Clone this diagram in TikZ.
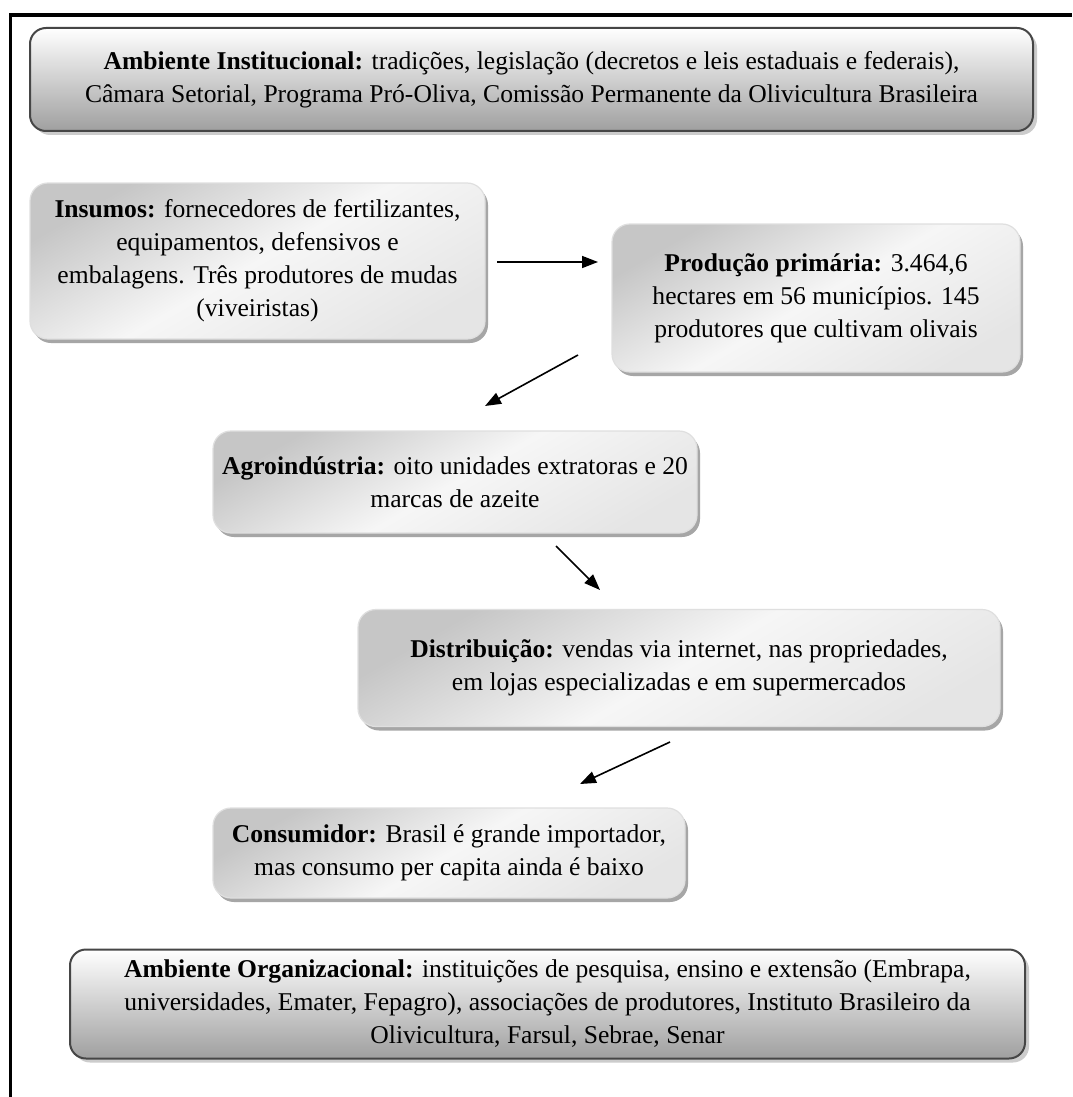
\documentclass[tikz,border=0pt]{standalone}
\usepackage{fontspec}
\setmainfont{Liberation Serif}
\usetikzlibrary{arrows.meta,shadows}

\begin{document}
\begin{tikzpicture}[x=0.5pt,y=-0.5pt,
  font=\fontsize{12.8}{16.5}\selectfont,
  envbox/.style={draw=gray!55!black, line width=1pt, rounded corners=8pt,
    top color=white, bottom color=gray!75, align=center, inner sep=0pt,
    drop shadow={shadow xshift=2pt, shadow yshift=-2pt, fill=gray!40, opacity=1}},
  chainbox/.style={draw=gray!25, line width=0.6pt, rounded corners=9pt,
    top color=gray!45, bottom color=gray!20, middle color=gray!7, shading angle=30,
    align=center, inner sep=0pt,
    drop shadow={shadow xshift=1.5pt, shadow yshift=-2pt, fill=gray!70, opacity=1}},
  arr/.style={-{Triangle[length=8pt,width=6pt]}, line width=0.8pt}]
\useasboundingbox (0,0) rectangle (1072,1097);
\fill[white] (0,0) rectangle (1072,1097);

% frame
\draw[line width=1.6pt] (10.5,1097) -- (10.5,15) -- (1072,15);

% environment boxes
\node[envbox, minimum width=501.5pt, minimum height=51.5pt] (inst) at (531.5,79.5)
  {\textbf{Ambiente Institucional:} tradições, legislação (decretos e leis estaduais e federais),\\
   Câmara Setorial, Programa Pró-Oliva, Comissão Permanente da Olivicultura Brasileira};
\node[envbox, minimum width=477.5pt, minimum height=54.5pt] (org) at (547.5,1004)
  {\textbf{Ambiente Organizacional:} instituições de pesquisa, ensino e extensão (Embrapa,\\
   universidades, Emater, Fepagro), associações de produtores, Instituto Brasileiro da\\
   Olivicultura, Farsul, Sebrae, Senar};

% chain
\node[chainbox, minimum width=227.5pt, minimum height=78pt] (insumos) at (257.5,261)
  {\textbf{Insumos:} fornecedores de fertilizantes,\\ equipamentos, defensivos e\\
   embalagens. Três produtores de mudas\\ (viveiristas)};
\node[chainbox, minimum width=204pt, minimum height=74pt] (prod) at (816,298)
  {\textbf{Produção primária:} 3.464,6\\ hectares em 56 municípios. 145\\
   produtores que cultivam olivais};
\node[chainbox, minimum width=242pt, minimum height=51pt] (agro) at (455,482)
  {\textbf{Agroindústria:} oito unidades extratoras e 20\\ marcas de azeite};
\node[chainbox, minimum width=321pt, minimum height=58.5pt] (distr) at (679,668)
  {\textbf{Distribuição:} vendas via internet, nas propriedades,\\
   em lojas especializadas e em supermercados};
\node[chainbox, minimum width=236pt, minimum height=45pt] (cons) at (449,853)
  {\textbf{Consumidor:} Brasil é grande importador,\\ mas consumo per capita ainda é baixo};

% arrow ends
\coordinate (insumos-out) at (497,262);
\coordinate (prod-in) at (598,262);
\coordinate (prod-out) at (578,355);
\coordinate (agro-in) at (485,406);
\coordinate (agro-out) at (556,546);
\coordinate (distr-in) at (600,590);
\coordinate (distr-out) at (670,742);
\coordinate (cons-in) at (580,784);

\draw[arr] (insumos-out) -- (prod-in);
\draw[arr] (prod-out) -- (agro-in);
\draw[arr] (agro-out) -- (distr-in);
\draw[arr] (distr-out) -- (cons-in);

\end{tikzpicture}
\end{document}
